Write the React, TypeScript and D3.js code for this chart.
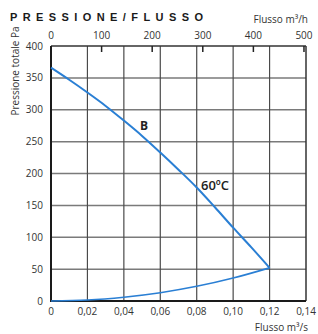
import React, { useEffect, useRef } from "react";
import * as d3 from "d3";

// flow in m3/s
const flowTicks = [0, 0.02, 0.04, 0.06, 0.08, 0.1, 0.12, 0.14];
const flowHourTicks = [0, 100, 200, 300, 400, 500];
const pressureTicks = [0, 50, 100, 150, 200, 250, 300, 350, 400];

// curve B at 60ºC (fan curve)
const fanFlow = [0, 0.01, 0.02, 0.03, 0.04, 0.05, 0.06, 0.07, 0.08, 0.09, 0.1, 0.11, 0.12];
const fanPressure = [366, 347, 327, 306, 283, 259, 233, 206, 178, 147, 115, 84, 52];

// system curve
const sysFlow = [0, 0.02, 0.04, 0.06, 0.08, 0.1, 0.12];
const sysPressure = [0, 1.5, 6, 13, 23, 36, 52];

export default function App() {
  const ref = useRef<SVGSVGElement>(null);

  useEffect(() => {
    if (!ref.current) return;
    const svg = d3.select(ref.current);
    svg.selectAll("*").remove();

    const left = 51,
      right = 306,
      top = 46,
      bottom = 301;
    const font = "'Open Sans', sans-serif";

    const x = d3.scaleLinear().domain([0, 0.14]).range([left, right]);
    const xTop = d3.scaleLinear().domain([0, 504]).range([left, right]);
    const y = d3.scaleLinear().domain([0, 400]).range([bottom, top]);

    // horizontal grid
    svg
      .append("g")
      .selectAll("line")
      .data(pressureTicks.filter((d) => d > 0 && d < 400))
      .enter()
      .append("line")
      .attr("x1", left)
      .attr("x2", right)
      .attr("y1", (d) => y(d))
      .attr("y2", (d) => y(d))
      .attr("stroke", "#7a7a7a")
      .attr("stroke-width", 1.5);

    // vertical grid
    svg
      .append("g")
      .selectAll("line")
      .data(flowTicks.filter((d) => d > 0 && d < 0.14))
      .enter()
      .append("line")
      .attr("x1", (d) => x(d))
      .attr("x2", (d) => x(d))
      .attr("y1", top)
      .attr("y2", bottom)
      .attr("stroke", "#4a4a4a")
      .attr("stroke-width", 1.2);

    // frame
    svg
      .append("line")
      .attr("x1", left)
      .attr("x2", right)
      .attr("y1", top)
      .attr("y2", top)
      .attr("stroke", "#333")
      .attr("stroke-width", 1.5);
    svg
      .append("line")
      .attr("x1", right)
      .attr("x2", right)
      .attr("y1", top)
      .attr("y2", bottom)
      .attr("stroke", "#333")
      .attr("stroke-width", 1.5);
    svg
      .append("line")
      .attr("x1", left)
      .attr("x2", left)
      .attr("y1", top)
      .attr("y2", bottom + 1)
      .attr("stroke", "#1a1a1a")
      .attr("stroke-width", 2);
    svg
      .append("line")
      .attr("x1", left - 1)
      .attr("x2", right)
      .attr("y1", bottom)
      .attr("y2", bottom)
      .attr("stroke", "#1a1a1a")
      .attr("stroke-width", 2);

    // top ticks (m3/h)
    svg
      .append("g")
      .selectAll("line")
      .data(flowHourTicks.filter((d) => d > 0))
      .enter()
      .append("line")
      .attr("x1", (d) => xTop(d))
      .attr("x2", (d) => xTop(d))
      .attr("y1", top)
      .attr("y2", top + 6)
      .attr("stroke", "#222")
      .attr("stroke-width", 1.5);

    // tick labels
    svg
      .append("g")
      .selectAll("text")
      .data(flowHourTicks)
      .enter()
      .append("text")
      .attr("x", (d) => xTop(d))
      .attr("y", 39)
      .attr("text-anchor", "middle")
      .attr("font-family", font)
      .attr("font-size", 10)
      .attr("fill", "#333")
      .text((d) => d);

    svg
      .append("g")
      .selectAll("text")
      .data(flowTicks)
      .enter()
      .append("text")
      .attr("x", (d) => x(d))
      .attr("y", 315)
      .attr("text-anchor", "middle")
      .attr("font-family", font)
      .attr("font-size", 10)
      .attr("fill", "#333")
      .text((d) => (d === 0 ? "0" : d3.format(".2f")(d).replace(".", ",")));

    svg
      .append("g")
      .selectAll("text")
      .data(pressureTicks)
      .enter()
      .append("text")
      .attr("x", 43)
      .attr("y", (d) => y(d) + 3.5)
      .attr("text-anchor", "end")
      .attr("font-family", font)
      .attr("font-size", 10)
      .attr("fill", "#333")
      .text((d) => d);

    // curves
    const line = d3
      .line<[number, number]>()
      .x((d) => x(d[0]))
      .y((d) => y(d[1]))
      .curve(d3.curveMonotoneX);

    svg
      .append("path")
      .datum(fanFlow.map((f, i) => [f, fanPressure[i]] as [number, number]))
      .attr("fill", "none")
      .attr("stroke", "#2a7fd4")
      .attr("stroke-width", 2)
      .attr("d", line);

    svg
      .append("path")
      .datum(sysFlow.map((f, i) => [f, sysPressure[i]] as [number, number]))
      .attr("fill", "none")
      .attr("stroke", "#2a7fd4")
      .attr("stroke-width", 1.6)
      .attr("d", line);

    // curve labels
    svg
      .append("text")
      .attr("x", 140)
      .attr("y", 130)
      .attr("font-family", font)
      .attr("font-weight", 700)
      .attr("font-size", 12)
      .attr("fill", "#222")
      .text("B");
    svg
      .append("text")
      .attr("x", 201)
      .attr("y", 190)
      .attr("font-family", font)
      .attr("font-weight", 600)
      .attr("font-size", 13)
      .attr("fill", "#222")
      .text("60ºC");

    // titles
    svg
      .append("text")
      .attr("x", 10)
      .attr("y", 21)
      .attr("font-family", "'Liberation Sans', Arial, sans-serif")
      .attr("font-weight", 900)
      .attr("font-size", 11)
      .attr("fill", "#1a1a1a")
      .attr("textLength", 193)
      .attr("lengthAdjust", "spacing")
      .text("PRESSIONE/FLUSSO");

    svg
      .append("text")
      .attr("x", 308)
      .attr("y", 23)
      .attr("text-anchor", "end")
      .attr("font-family", font)
      .attr("font-size", 10)
      .attr("fill", "#333")
      .text("Flusso m³/h");

    svg
      .append("text")
      .attr("x", 308)
      .attr("y", 331)
      .attr("text-anchor", "end")
      .attr("font-family", font)
      .attr("font-size", 10)
      .attr("fill", "#333")
      .text("Flusso m³/s");

    svg
      .append("text")
      .attr("transform", "translate(19,71) rotate(-90)")
      .attr("text-anchor", "middle")
      .attr("font-family", font)
      .attr("font-size", 10)
      .attr("fill", "#333")
      .text("Pressione totale Pa");
  }, []);

  return (
    <svg
      ref={ref}
      width={318}
      height={334}
      style={{ position: "absolute", left: 0, top: 0, background: "#fff" }}
    />
  );
}
